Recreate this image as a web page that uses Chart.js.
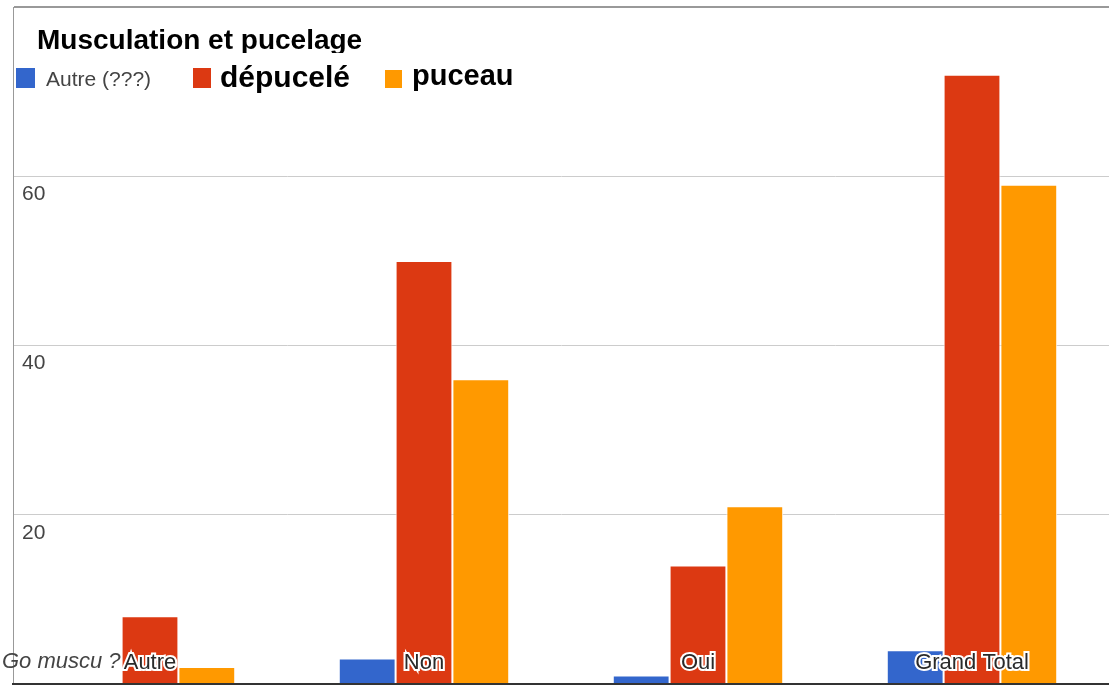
<!DOCTYPE html>
<html>
<head>
<meta charset="utf-8">
<script src="https://cdn.jsdelivr.net/npm/chart.js@4.4.1/dist/chart.umd.min.js"></script>
<style>
  html, body { margin: 0; padding: 0; background: #fff; overflow: hidden; }
  #wrap { position: relative; width: 1109px; height: 687px; font-family: Arial, "Liberation Sans", sans-serif; }
  #chart { position: absolute; left: 0; top: 0; }
  #title {
    position: absolute; left: 37px; top: 25px; height: 28px; overflow: hidden;
    font-weight: bold; font-size: 28px; line-height: 30px; color: #000;
    white-space: nowrap;
  }
  .leg { position: absolute; top: 64px; height: 30px; line-height: 30px; white-space: nowrap; }
  .leg i { position: absolute; top: 4px; width: 19px; height: 20px; }
  .leg span { position: absolute; white-space: nowrap; }
  #xtitle {
    position: absolute; left: 2px; top: 648px; font-style: italic; font-size: 22px;
    color: #444; white-space: nowrap;
  }
</style>
</head>
<body>
<div id="wrap">
  <canvas id="chart" width="1109" height="687"></canvas>
  <div id="title">Musculation et pucelage</div>
  <div class="leg" style="left:16px"><i style="background:#3366cc"></i><span style="left:30px;font-size:21px;color:#444">Autre (???)</span></div>
  <div class="leg" style="left:193px"><i style="background:#dc3912;width:18px"></i><span style="left:27px;top:-2px;font-size:30px;font-weight:bold;color:#000">dépucelé</span></div>
  <div class="leg" style="left:385px"><i style="background:#ff9900;width:17px;height:18px;top:6px"></i><span style="left:27px;top:-4px;font-size:29px;font-weight:bold;color:#000">puceau</span></div>
  <div id="xtitle">Go muscu ?</div>
</div>
<script>
// data
const categories = ['Autre', 'Non', 'Oui', 'Grand Total'];
const autreValues = [0, 3, 1, 4];
const depuceleValues = [8, 50, 14, 72];
const puceauValues = [2, 36, 21, 59];
const yTicks = [20, 40, 60];

const ctx = document.getElementById('chart').getContext('2d');

new Chart(ctx, {
  type: 'bar',
  data: {
    labels: categories,
    datasets: [
      { label: 'Autre (???)', data: autreValues, backgroundColor: '#3366cc' },
      { label: 'dépucelé', data: depuceleValues, backgroundColor: '#dc3912' },
      { label: 'puceau', data: puceauValues, backgroundColor: '#ff9900' }
    ]
  },
  options: {
    responsive: false,
    animation: false,
    layout: { padding: { top: 7, left: 0, right: 0, bottom: 0 } },
    datasets: {
      bar: {
        categoryPercentage: 0.622,
        barPercentage: 1.0,
        borderColor: '#ffffff',
        borderWidth: 1
      }
    },
    plugins: {
      legend: { display: false },
      title: { display: false },
      tooltip: { enabled: false }
    },
    scales: {
      x: {
        grid: { display: false, drawTicks: false },
        border: { display: true, color: '#333', width: 2, z: 2 },
        afterFit: (scale) => {
          scale.height = 3;
          scale.paddingLeft = 0;
          scale.paddingRight = 0;
        },
        ticks: {
          z: 1,
          mirror: true,
          padding: 8,
          maxRotation: 0,
          autoSkip: false,
          color: '#2a2a2a',
          font: { family: 'Arial, "Liberation Sans", sans-serif', size: 22 },
          textStrokeColor: '#ffffff',
          textStrokeWidth: 4
        }
      },
      y: {
        min: 0,
        max: 80,
        afterFit: (scale) => {
          scale.width = 13;
          scale.paddingTop = 0;
          scale.paddingBottom = 0;
        },
        grid: {
          drawTicks: false,
          color: (c) => c.tick && c.tick.value === 80 ? '#999' : (c.tick && c.tick.value === 0 ? 'rgba(0,0,0,0)' : '#cccccc'),
          lineWidth: (c) => c.tick && c.tick.value === 80 ? 2 : 1
        },
        border: { display: true, color: '#999', width: 1 },
        ticks: {
          stepSize: 20,
          mirror: true,
          padding: 9,
          labelOffset: 18,
          color: '#444',
          font: { family: 'Arial, "Liberation Sans", sans-serif', size: 21 },
          callback: (v) => yTicks.includes(v) ? String(v) : ''
        }
      }
    }
  }
});
</script>
</body>
</html>
